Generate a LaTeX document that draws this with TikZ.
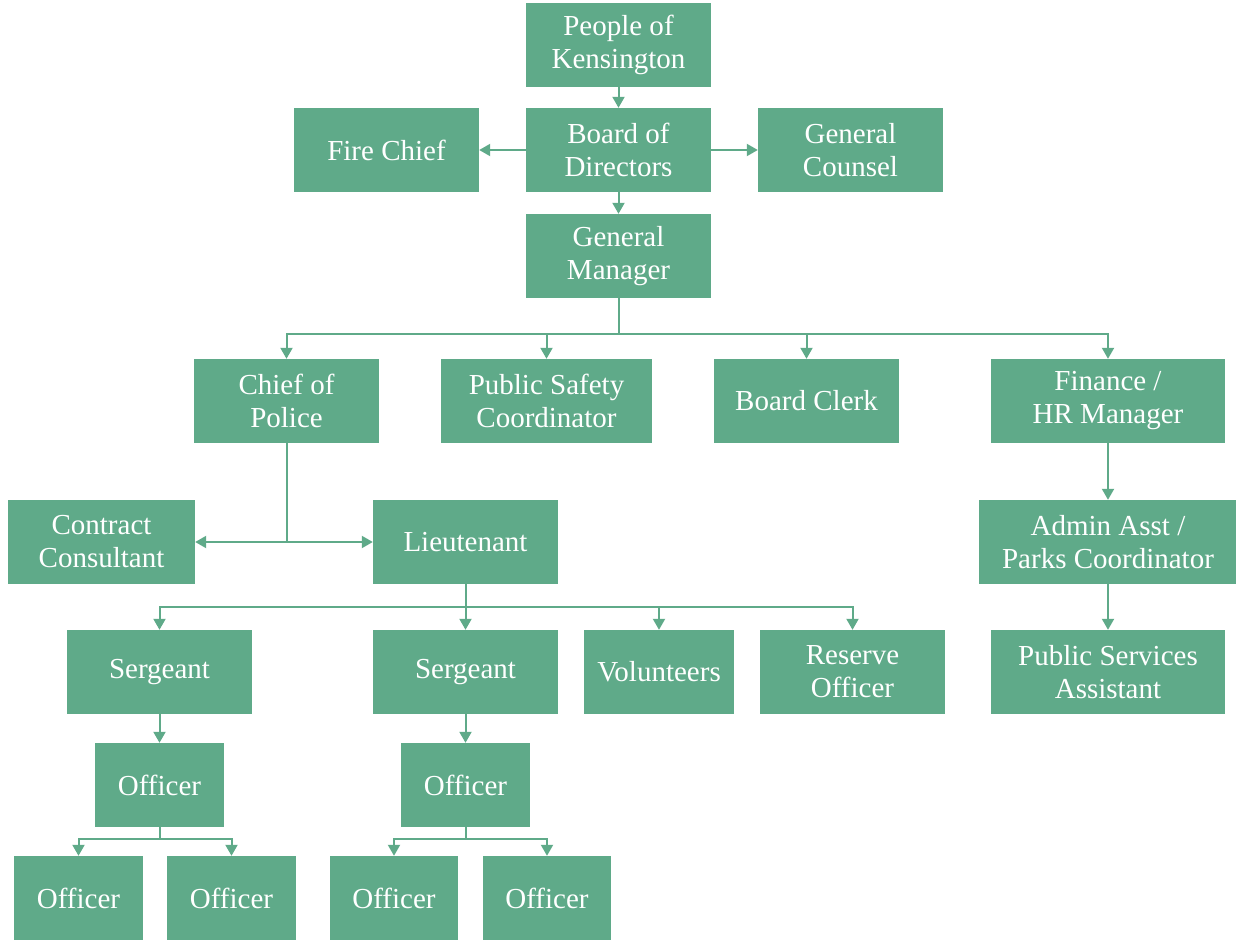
\documentclass[tikz,border=0pt]{standalone}
\usepackage{fontspec}
\setmainfont{Liberation Serif}
\usetikzlibrary{arrows.meta}
\definecolor{kgreen}{RGB}{95,170,137}
\tikzset{
  box/.style={fill=kgreen, text=white, minimum height=84pt, inner sep=0pt, align=center,
    font=\fontsize{29}{33}\selectfont},
  arr/.style={draw=kgreen, line width=2pt, -{Triangle[length=11pt,width=12pt]}}
}
\begin{document}
\begin{tikzpicture}[x=1pt,y=-1pt]
\useasboundingbox (0,0) rectangle (1236,941);
% top
\node[box, minimum width=185pt] (people) at (618.5,45) {People of\\Kensington};
\node[box, minimum width=185pt] (board) at (618.5,150) {Board of\\Directors};
\node[box, minimum width=185pt] (fire) at (386.5,150) {Fire Chief};
\node[box, minimum width=185pt] (counsel) at (850.5,150) {General\\Counsel};
\node[box, minimum width=185pt] (gm) at (618.5,256) {General\\Manager};
% row 2
\node[box, minimum width=185pt] (cop) at (286.5,401) {Chief of\\Police};
\node[box, minimum width=211pt] (psc) at (546.5,401) {Public Safety\\Coordinator};
\node[box, minimum width=185pt] (clerk) at (806.5,401) {Board Clerk};
\node[box, minimum width=234pt] (fin) at (1108,401) {Finance /\\HR Manager};
% row 3
\node[box, minimum width=187pt] (cc) at (101.5,542) {Contract\\Consultant};
\node[box, minimum width=185pt] (lt) at (465.5,542) {Lieutenant};
\node[box, minimum width=258pt] (admin) at (1108,542) {Admin Asst /\\Parks Coordinator};
% row 4
\node[box, minimum width=185pt] (sg1) at (159.5,672) {Sergeant};
\node[box, minimum width=185pt] (sg2) at (465.5,672) {Sergeant};
\node[box, minimum width=150pt] (vol) at (659,672) {Volunteers};
\node[box, minimum width=185pt] (res) at (852.5,672) {Reserve\\Officer};
\node[box, minimum width=234pt] (psa) at (1108,672) {Public Services\\Assistant};
% row 5
\node[box, minimum width=129pt] (of1) at (159.5,785) {Officer};
\node[box, minimum width=129pt] (of2) at (465.5,785) {Officer};
% row 6
\node[box, minimum width=129pt] (o11) at (78.5,898) {Officer};
\node[box, minimum width=129pt] (o12) at (231.5,898) {Officer};
\node[box, minimum width=128pt] (o21) at (394,898) {Officer};
\node[box, minimum width=128pt] (o22) at (547,898) {Officer};
% connectors
\draw[arr] (people) -- (board);
\draw[arr] (board) -- (fire);
\draw[arr] (board) -- (counsel);
\draw[arr] (board) -- (gm);
\coordinate (gmbar) at (618.5,334);
\foreach \t in {cop,psc,clerk,fin}
  \draw[arr] (gm.south) -- (gm.south |- gmbar) -| (\t.north);
\draw[arr] (cop.south) |- (cc.east);
\draw[arr] (cop.south) |- (lt.west);
\coordinate (ltbar) at (465.5,607);
\foreach \t in {sg1,sg2,vol,res}
  \draw[arr] (lt.south) -- (lt.south |- ltbar) -| (\t.north);
\draw[arr] (fin) -- (admin);
\draw[arr] (admin) -- (psa);
\draw[arr] (sg1) -- (of1);
\draw[arr] (sg2) -- (of2);
\coordinate (obar1) at (159.5,839);
\coordinate (obar2) at (465.5,839);
\foreach \t in {o11,o12}
  \draw[arr] (of1.south) -- (of1.south |- obar1) -| (\t.north);
\foreach \t in {o21,o22}
  \draw[arr] (of2.south) -- (of2.south |- obar2) -| (\t.north);
\end{tikzpicture}
\end{document}
